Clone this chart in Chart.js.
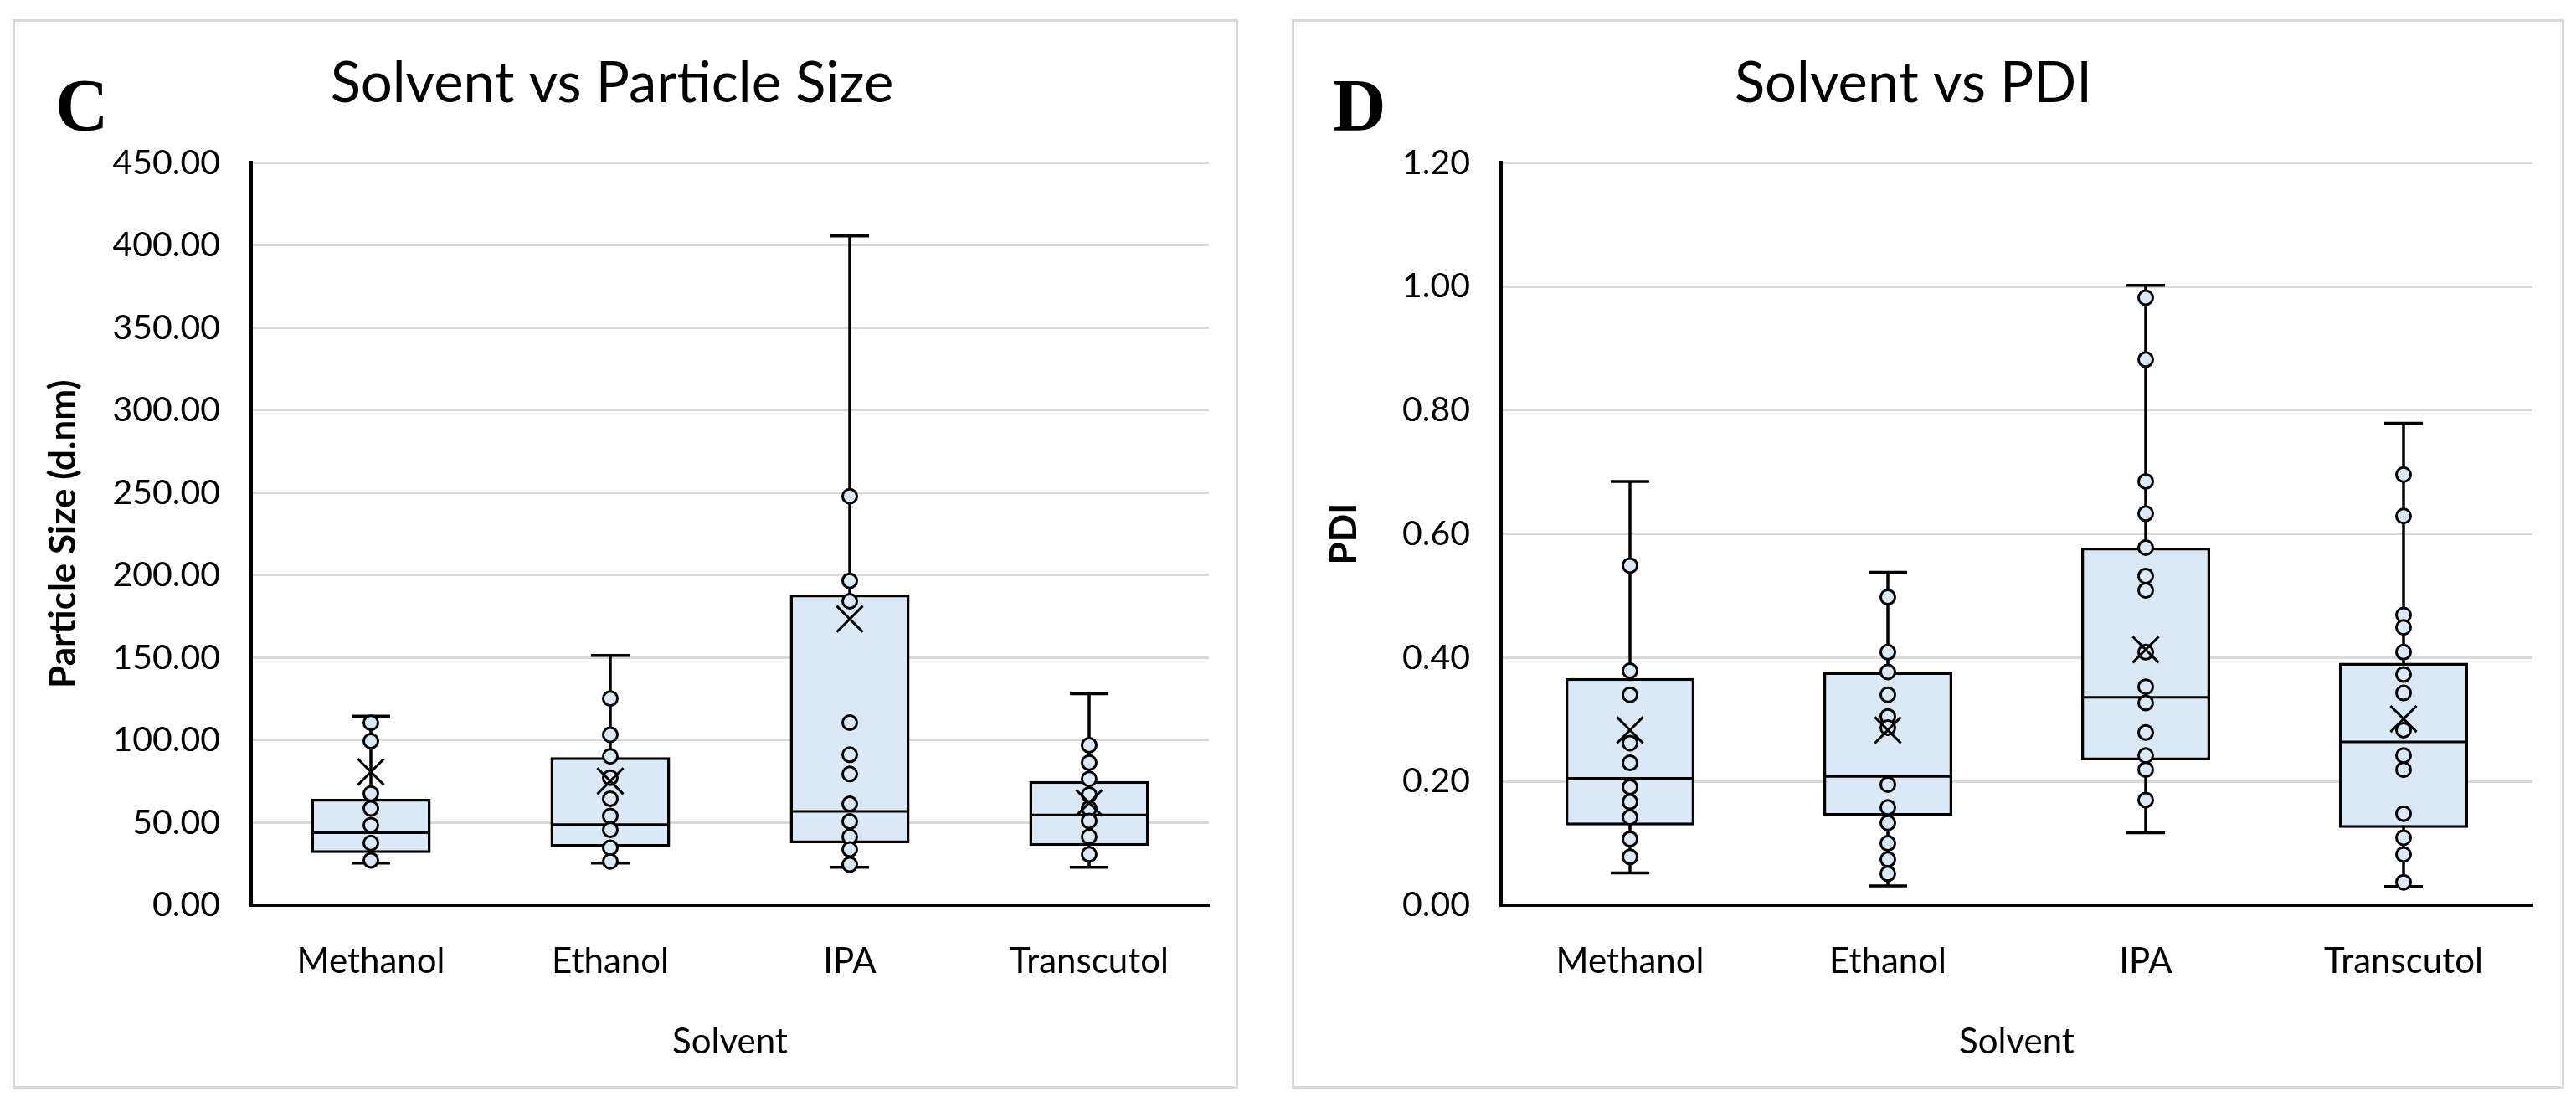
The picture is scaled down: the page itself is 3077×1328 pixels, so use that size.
<!DOCTYPE html>
<html>
<head>
<meta charset="utf-8">
<script src="https://cdn.jsdelivr.net/npm/chart.js@4.4.1/dist/chart.umd.min.js"></script>
<style>
  html, body { margin: 0; padding: 0; background: #ffffff; }
  body { width: 3077px; height: 1328px; position: relative; overflow: hidden; }
  .panel { position: absolute; box-sizing: border-box; border: 3px solid #d9d9d9; background: #fff; }
  .panel canvas { display: block; }
  .letter { position: absolute; font-family: "Liberation Serif", "DejaVu Serif", serif; font-weight: bold;
            font-size: 88px; line-height: 88px; color: #000; }
</style>
</head>
<body>
<div class="panel" id="panelC" style="left:15px; top:23px; width:1464px; height:1277px;">
  <canvas id="chartC" width="1458" height="1271"></canvas>
</div>
<div class="panel" id="panelD" style="left:1543px; top:23px; width:1520px; height:1277px;">
  <canvas id="chartD" width="1514" height="1271"></canvas>
</div>
<div class="letter" style="left:66px; top:82px;">C</div>
<div class="letter" style="left:1592px; top:82px;">D</div>

<script>
// ---------------- DATA ----------------
const categories = ['Methanol', 'Ethanol', 'IPA', 'Transcutol'];

// Particle size (d.nm)
const sizeTicks = [0, 50, 100, 150, 200, 250, 300, 350, 400, 450];
const sizeLow    = [25.5, 25.5, 23.0, 23.0];
const sizeQ1     = [31.6, 35.3, 37.5, 35.9];
const sizeMedian = [43.9, 48.8, 56.8, 54.7];
const sizeQ3     = [64.5, 89.7, 188.3, 75.2];
const sizeHigh   = [114.6, 151.4, 405.7, 128.1];
const sizeMean   = [80.8, 75.2, 173.5, 62.0];
const sizePoints = [
  [110.5, 99.5, 67.6, 58.6, 48.5, 37.7, 27.2],
  [125.3, 103.3, 90.2, 77.3, 64.5, 54.0, 45.7, 34.8, 26.5],
  [247.8, 196.6, 184.3, 110.6, 91.2, 79.5, 61.4, 50.7, 41.5, 33.8, 24.6],
  [97.0, 86.4, 76.5, 67.0, 58.6, 51.0, 41.5, 30.8]
];

// PDI
const pdiTicks = [0, 0.2, 0.4, 0.6, 0.8, 1.0, 1.2];
const pdiLow    = [0.052, 0.031, 0.117, 0.030];
const pdiQ1     = [0.129, 0.144, 0.234, 0.125];
const pdiMedian = [0.205, 0.208, 0.336, 0.264];
const pdiQ3     = [0.367, 0.377, 0.578, 0.392];
const pdiHigh   = [0.685, 0.538, 1.002, 0.779];
const pdiMean   = [0.283, 0.283, 0.413, 0.301];
const pdiPoints = [
  [0.549, 0.379, 0.340, 0.262, 0.230, 0.191, 0.167, 0.142, 0.107, 0.078],
  [0.498, 0.409, 0.377, 0.340, 0.305, 0.287, 0.195, 0.158, 0.133, 0.100, 0.074, 0.051],
  [0.982, 0.882, 0.685, 0.633, 0.578, 0.532, 0.509, 0.409, 0.353, 0.327, 0.279, 0.242, 0.219, 0.170],
  [0.696, 0.629, 0.469, 0.449, 0.409, 0.373, 0.343, 0.283, 0.242, 0.219, 0.148, 0.109, 0.082, 0.037]
];

// ---------------- STYLE ----------------
const BOX_FILL = '#dbe9f6';
const INK = '#000000';
const FONT = 'Lato';
Chart.defaults.font.family = FONT;
Chart.defaults.color = INK;

function boxHalfWidth(chart) {
  const xs = chart.scales.x;
  return (xs.width / categories.length) * 0.5 / 2;
}

function buildDatasets(low, q1, med, q3, high, mean, points) {
  const whisker = [];
  categories.forEach((c, i) => {
    whisker.push({x: c, y: low[i]}, {x: c, y: high[i]}, {x: c, y: null});
  });
  const pts = [];
  categories.forEach((c, i) => points[i].forEach(v => pts.push({x: c, y: v})));
  return [
    { type: 'line', label: 'whisker', data: whisker, order: 4, spanGaps: false,
      borderColor: INK, borderWidth: 3.5, pointStyle: 'line', pointRadius: 23,
      pointBorderColor: INK, pointBorderWidth: 3.5, pointHoverRadius: 23 },
    { type: 'bar', label: 'box', data: q1.map((v, i) => [v, q3[i]]), order: 3,
      backgroundColor: BOX_FILL, borderColor: INK, borderWidth: 3.5, borderSkipped: false,
      barPercentage: 0.5, categoryPercentage: 1.0 },
    { type: 'line', label: 'median', data: categories.map((c, i) => ({x: c, y: med[i]})), order: 2,
      showLine: false, pointStyle: 'line', pointBorderColor: INK, pointBorderWidth: 3,
      pointRadius: (ctx) => boxHalfWidth(ctx.chart) - 1.5 },
    { type: 'line', label: 'points', data: pts, order: 1, showLine: false,
      pointStyle: 'circle', pointRadius: 8.5, pointBackgroundColor: BOX_FILL,
      pointBorderColor: INK, pointBorderWidth: 3 },
    { type: 'line', label: 'mean', data: categories.map((c, i) => ({x: c, y: mean[i]})), order: 0,
      showLine: false, pointStyle: 'crossRot', pointRadius: 22,
      pointBorderColor: INK, pointBorderWidth: 3 }
  ];
}

function buildOptions(cfg) {
  return {
    responsive: false,
    animation: false,
    devicePixelRatio: 1,
    layout: { padding: { left: 0, right: cfg.rightPad, top: 0, bottom: 0 } },
    plugins: {
      legend: { display: false },
      tooltip: { enabled: false },
      title: {
        display: true, text: cfg.title, color: INK,
        font: { family: FONT, size: 67, weight: 'normal', lineHeight: 1.2 },
        padding: { top: 34, bottom: 54 }
      }
    },
    scales: {
      x: {
        type: 'category',
        offset: true,
        grid: { display: false, drawTicks: false },
        border: { display: true, color: INK, width: 4 },
        ticks: { color: INK, padding: 42, font: { family: FONT, size: 42 } },
        title: { display: true, text: 'Solvent', color: INK,
                 font: { family: FONT, size: 42, lineHeight: 1.2 }, padding: { top: 0, bottom: 27 } },
        afterFit: (s) => { s.height = 216; }
      },
      y: {
        type: 'linear',
        min: cfg.ticks[0], max: cfg.ticks[cfg.ticks.length - 1],
        grid: { color: '#d9d9d9', lineWidth: 3, drawTicks: false, z: -1 },
        border: { display: true, color: INK, width: 4 },
        afterBuildTicks: (s) => { s.ticks = cfg.ticks.map(v => ({ value: v })); },
        ticks: { color: INK, padding: 37, font: { family: FONT, size: 41 },
                 callback: (v) => Number(v).toFixed(2) },
        title: { display: true, text: cfg.yTitle, color: INK,
                 font: { family: FONT, size: 44, weight: 'bold', lineHeight: 1.2 },
                 padding: { top: cfg.yTitlePad, bottom: 0 } },
        afterFit: (s) => { s.width = cfg.yWidth; }
      }
    }
  };
}

new Chart(document.getElementById('chartC'), {
  type: 'bar',
  data: { labels: categories,
          datasets: buildDatasets(sizeLow, sizeQ1, sizeMedian, sizeQ3, sizeHigh, sizeMean, sizePoints) },
  options: buildOptions({ title: 'Solvent vs Particle Size', yTitle: 'Particle Size (d.nm)',
                          ticks: sizeTicks, yWidth: 282, rightPad: 32, yTitlePad: 31 })
});

new Chart(document.getElementById('chartD'), {
  type: 'bar',
  data: { labels: categories,
          datasets: buildDatasets(pdiLow, pdiQ1, pdiMedian, pdiQ3, pdiHigh, pdiMean, pdiPoints) },
  options: buildOptions({ title: 'Solvent vs PDI', yTitle: 'PDI',
                          ticks: pdiTicks, yWidth: 247, rightPad: 35, yTitlePad: 33 })
});
</script>
</body>
</html>
